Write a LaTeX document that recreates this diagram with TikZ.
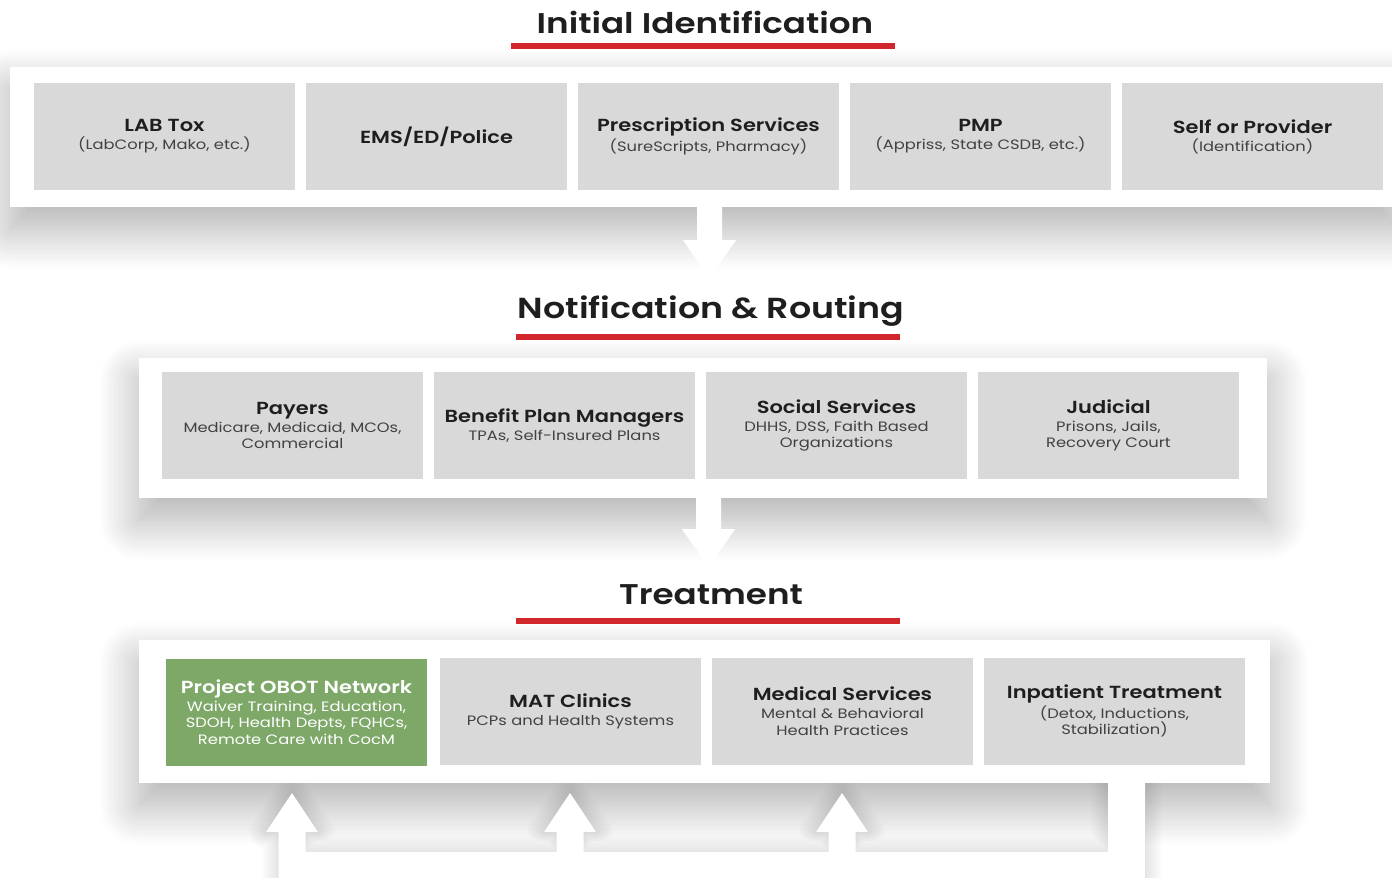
\documentclass[tikz,border=0pt]{standalone}
\usepackage{fontspec}
\setmainfont[FakeStretch=1.2,BoldFont={Poppins SemiBold}]{Poppins}
\usetikzlibrary{calc,shadows.blur}
\pgfdeclarelayer{shadows}
\pgfsetlayers{shadows,main}
\definecolor{cellgray}{HTML}{D9D9D9}
\definecolor{obotgreen}{HTML}{7EA868}
\definecolor{rulered}{HTML}{D1262B}
\definecolor{inkdark}{HTML}{1E1E1E}
\definecolor{inksub}{HTML}{424242}
\newcommand\subsize{\fontsize{13.6}{16.5}\selectfont}
\newcommand\headsize{\fontsize{17.5}{18}\selectfont}
\newcommand\titlesize{\fontsize{28.5}{32}\selectfont}
\newcommand\celltext[2]{{\headsize\bfseries\color{inkdark}#1}\\[1.5pt]#2}
% white return loop under the treatment row
\newcommand\combpath{(278.5,878)
  \foreach \ax in {292,570,842}{
    -- (\ax-13.5,852) -- (\ax-13.5,832) -- (\ax-26,832) -- (\ax,793)
    -- (\ax+26,832) -- (\ax+13.5,832) -- (\ax+13.5,852)}
  -- (1108,852) -- (1108,783) -- (1145,783) -- (1145,878) -- cycle}
\tikzstyle{panel}     =[fill=white,inner sep=0pt]
\tikzstyle{softshadow}=[blur shadow={shadow xshift=0pt,shadow yshift=-22pt,
                        shadow blur radius=40pt,shadow blur steps=30,shadow opacity=32}]
\tikzstyle{combshadow}=[blur shadow={shadow xshift=0pt,shadow yshift=0pt,
                        shadow blur radius=18pt,shadow blur steps=20,shadow opacity=22}]
\tikzstyle{cell}      =[fill=cellgray,inner sep=0pt,minimum width=261pt,
                        minimum height=107pt,align=center,text=inksub,font=\subsize]
\tikzstyle{greencell} =[cell,fill=obotgreen,text=white]
\tikzstyle{stagetitle}=[font=\titlesize\bfseries,text=inkdark,inner sep=0pt]
\tikzstyle{redrule}   =[rulered,line width=6pt]
\tikzstyle{blockarrow}=[fill=white]

\begin{document}
\begin{tikzpicture}[x=1pt,y=-1pt]
  \useasboundingbox (0,0) rectangle (1392,878);

  % Stage 1: initial identification
  \node[stagetitle] (idtitle) at (705,22) {Initial Identification};
  \draw[redrule] (511,46) -- (895,46);
  \node[panel,minimum width=1390pt,minimum height=140pt] (idpanel) at (705,137) {};
  \node[cell] (labtox) at (164.5,136.5) {\celltext{LAB Tox}{(LabCorp, Mako, etc.)}};
  \node[cell] (ems)    at (436.5,136.5) {{\headsize\bfseries\color{inkdark}EMS/ED/Police}};
  \node[cell] (rx)     at (708.5,136.5) {\celltext{Prescription Services}{(SureScripts, Pharmacy)}};
  \node[cell] (pmp)    at (980.5,136.5) {\celltext{PMP}{(Appriss, State CSDB, etc.)}};
  \node[cell] (self)   at (1252.5,136.5) {\celltext{Self or Provider}{(Identification)}};

  % Stage 2: notification and routing
  \node[stagetitle,font=\fontsize{29}{32}\selectfont\bfseries] (routetitle) at (711,311) {Notification \& Routing};
  \draw[redrule] (516,337) -- (900,337);
  \node[panel,minimum width=1128pt,minimum height=140pt] (routepanel) at (703,428) {};
  \node[cell] (payers)  at (292.5,425.5) {\celltext{Payers}{Medicare, Medicaid, MCOs,\\Commercial}};
  \node[cell] (benefit) at (564.5,425.5) {\celltext{Benefit Plan Managers}{TPAs, Self-Insured Plans}};
  \node[cell] (social)  at (836.5,425.5) {\celltext{Social Services}{DHHS, DSS, Faith Based\\Organizations}};
  \node[cell] (judicial) at (1108.5,425.5) {\celltext{Judicial}{Prisons, Jails,\\Recovery Court}};

  % Stage 3: treatment
  \node[stagetitle] (treattitle) at (711,595) {Treatment};
  \draw[redrule] (516,621) -- (900,621);
  \node[panel,minimum width=1131pt,minimum height=143pt] (treatpanel) at (704.5,711.5) {};
  \node[greencell] (obot) at (296.5,712) {{\headsize\bfseries Project OBOT Network}\\[1.5pt]
    Waiver Training, Education,\\SDOH, Health Depts, FQHCs,\\Remote Care with CocM};
  \node[cell] (mat)       at (570.5,711) {\celltext{MAT Clinics}{PCPs and Health Systems}};
  \node[cell] (medical)   at (842.5,711) {\celltext{Medical Services}{Mental \& Behavioral\\Health Practices}};
  \node[cell] (inpatient) at (1114.5,711) {\celltext{Inpatient Treatment}{(Detox, Inductions,\\Stabilization)}};

  % Soft shadows behind panels and loop
  \begin{pgfonlayer}{shadows}
    \foreach \p in {idpanel,routepanel,treatpanel}
      \path[softshadow] (\p.north west) rectangle (\p.south east);
    \path[combshadow] \combpath;
  \end{pgfonlayer}

  % Down arrows between stages
  \foreach \from/\dx/\len in {idpanel/4.5/71,routepanel/5.5/69}{
    \coordinate (top) at ($(\from.south)+(\dx,0)$);
    \coordinate (tip) at ($(top)+(0,\len)$);
    \fill[blockarrow] ($(top)+(-12.5,0)$) -- ($(tip)+(-12.5,-38)$) -- ++(-14,0)
      -- (tip) -- ($(tip)+(26.5,-38)$) -- ++(-14,0) -- ($(top)+(12.5,0)$) -- cycle;
  }

  % Return loop from inpatient back to the treatment cells
  \fill[blockarrow] \combpath;
\end{tikzpicture}
\end{document}
